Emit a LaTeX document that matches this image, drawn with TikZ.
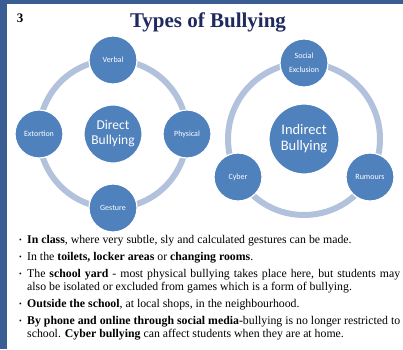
\documentclass[tikz,border=0pt]{standalone}
\usepackage{fontspec}
\setmainfont{Liberation Serif}
\newfontfamily\calibri{Carlito}
\definecolor{bandblue}{HTML}{3A5E94}
\definecolor{nodeblue}{HTML}{4F81BD}
\definecolor{ringblue}{HTML}{B3C2DC}
\definecolor{titlenavy}{HTML}{1F2B5E}
\newcommand{\bul}{\noindent\hangindent=8pt\hangafter=1\makebox[8pt][l]{\raisebox{0.8pt}{\fontsize{7.5}{7.5}\selectfont\textbullet}}}

\begin{document}
\begin{tikzpicture}[x=1pt,y=-1pt,
  ring/.style={draw=ringblue, line width=6pt},
  hub/.style={circle, fill=nodeblue, draw=white, line width=1.2pt, inner sep=0pt, text=white, align=center},
  spoke/.style={circle, fill=nodeblue, draw=white, line width=1.2pt, inner sep=0pt, minimum size=48pt, text=white, align=center, font=\calibri\fontsize{8}{14}\selectfont}]
            \useasboundingbox (0,0) rectangle (403,349);
            \fill[white] (0,0) rectangle (403,349);
            \fill[bandblue] (0,0) rectangle (403,4);
            \fill[bandblue] (0,0) rectangle (7,349);

            \node[font=\bfseries\fontsize{13}{13}\selectfont] (num) at (20,18) {3};
            \node[font=\bfseries\fontsize{21}{21}\selectfont, text=titlenavy] (title) at (208,22) {Types of Bullying};

            % direct bullying cycle
            \coordinate (DC) at (113,134);
            \draw[ring] (DC) circle (74);
            \node[hub, minimum size=58pt, font=\calibri\fontsize{13.5}{15}\selectfont] (DB) at (DC) {Direct\\Bullying};
            \node[spoke] (Verbal) at (113,60) {Verbal};
            \node[spoke] (Physical) at (187,134) {Physical};
            \node[spoke] (Gesture) at (113,208) {Gesture};
            \node[spoke] (Extortion) at (39,134) {Extortion};

            % indirect bullying cycle
            \coordinate (IC) at (304,139);
            \draw[ring] (IC) circle (76);
            \node[hub, minimum size=70pt, font=\calibri\fontsize{14.5}{16}\selectfont] (IB) at (IC) {Indirect\\Bullying};
            \node[spoke] (Social) at (304,63) {Social\\Exclusion};
            \node[spoke] (Rumours) at (370,177) {Rumours};
            \node[spoke] (Cyber) at (238,177) {Cyber};

            \node[anchor=north west, text width=381pt, align=justify, inner sep=0pt, font=\fontsize{11.8}{13}\selectfont] (notes) at (19,235) {%
              \setlength{\parskip}{4pt}\hyphenpenalty=10000\exhyphenpenalty=10000%
              \bul\textbf{In class}, where very subtle, sly and calculated gestures can be made.\par
              \bul In the \textbf{toilets, locker areas} or \textbf{changing rooms}.\par
              \bul The \textbf{school yard} - most physical bullying takes place here, but students may also be isolated or excluded from games which is a form of bullying.\par
              \bul\textbf{Outside the school}, at local shops, in the neighbourhood.\par
              \bul\textbf{By phone and online through social media-}bullying is no longer restricted to school. \textbf{Cyber bullying} can affect students when they are at home.\par};
        \end{tikzpicture}
\end{document}
